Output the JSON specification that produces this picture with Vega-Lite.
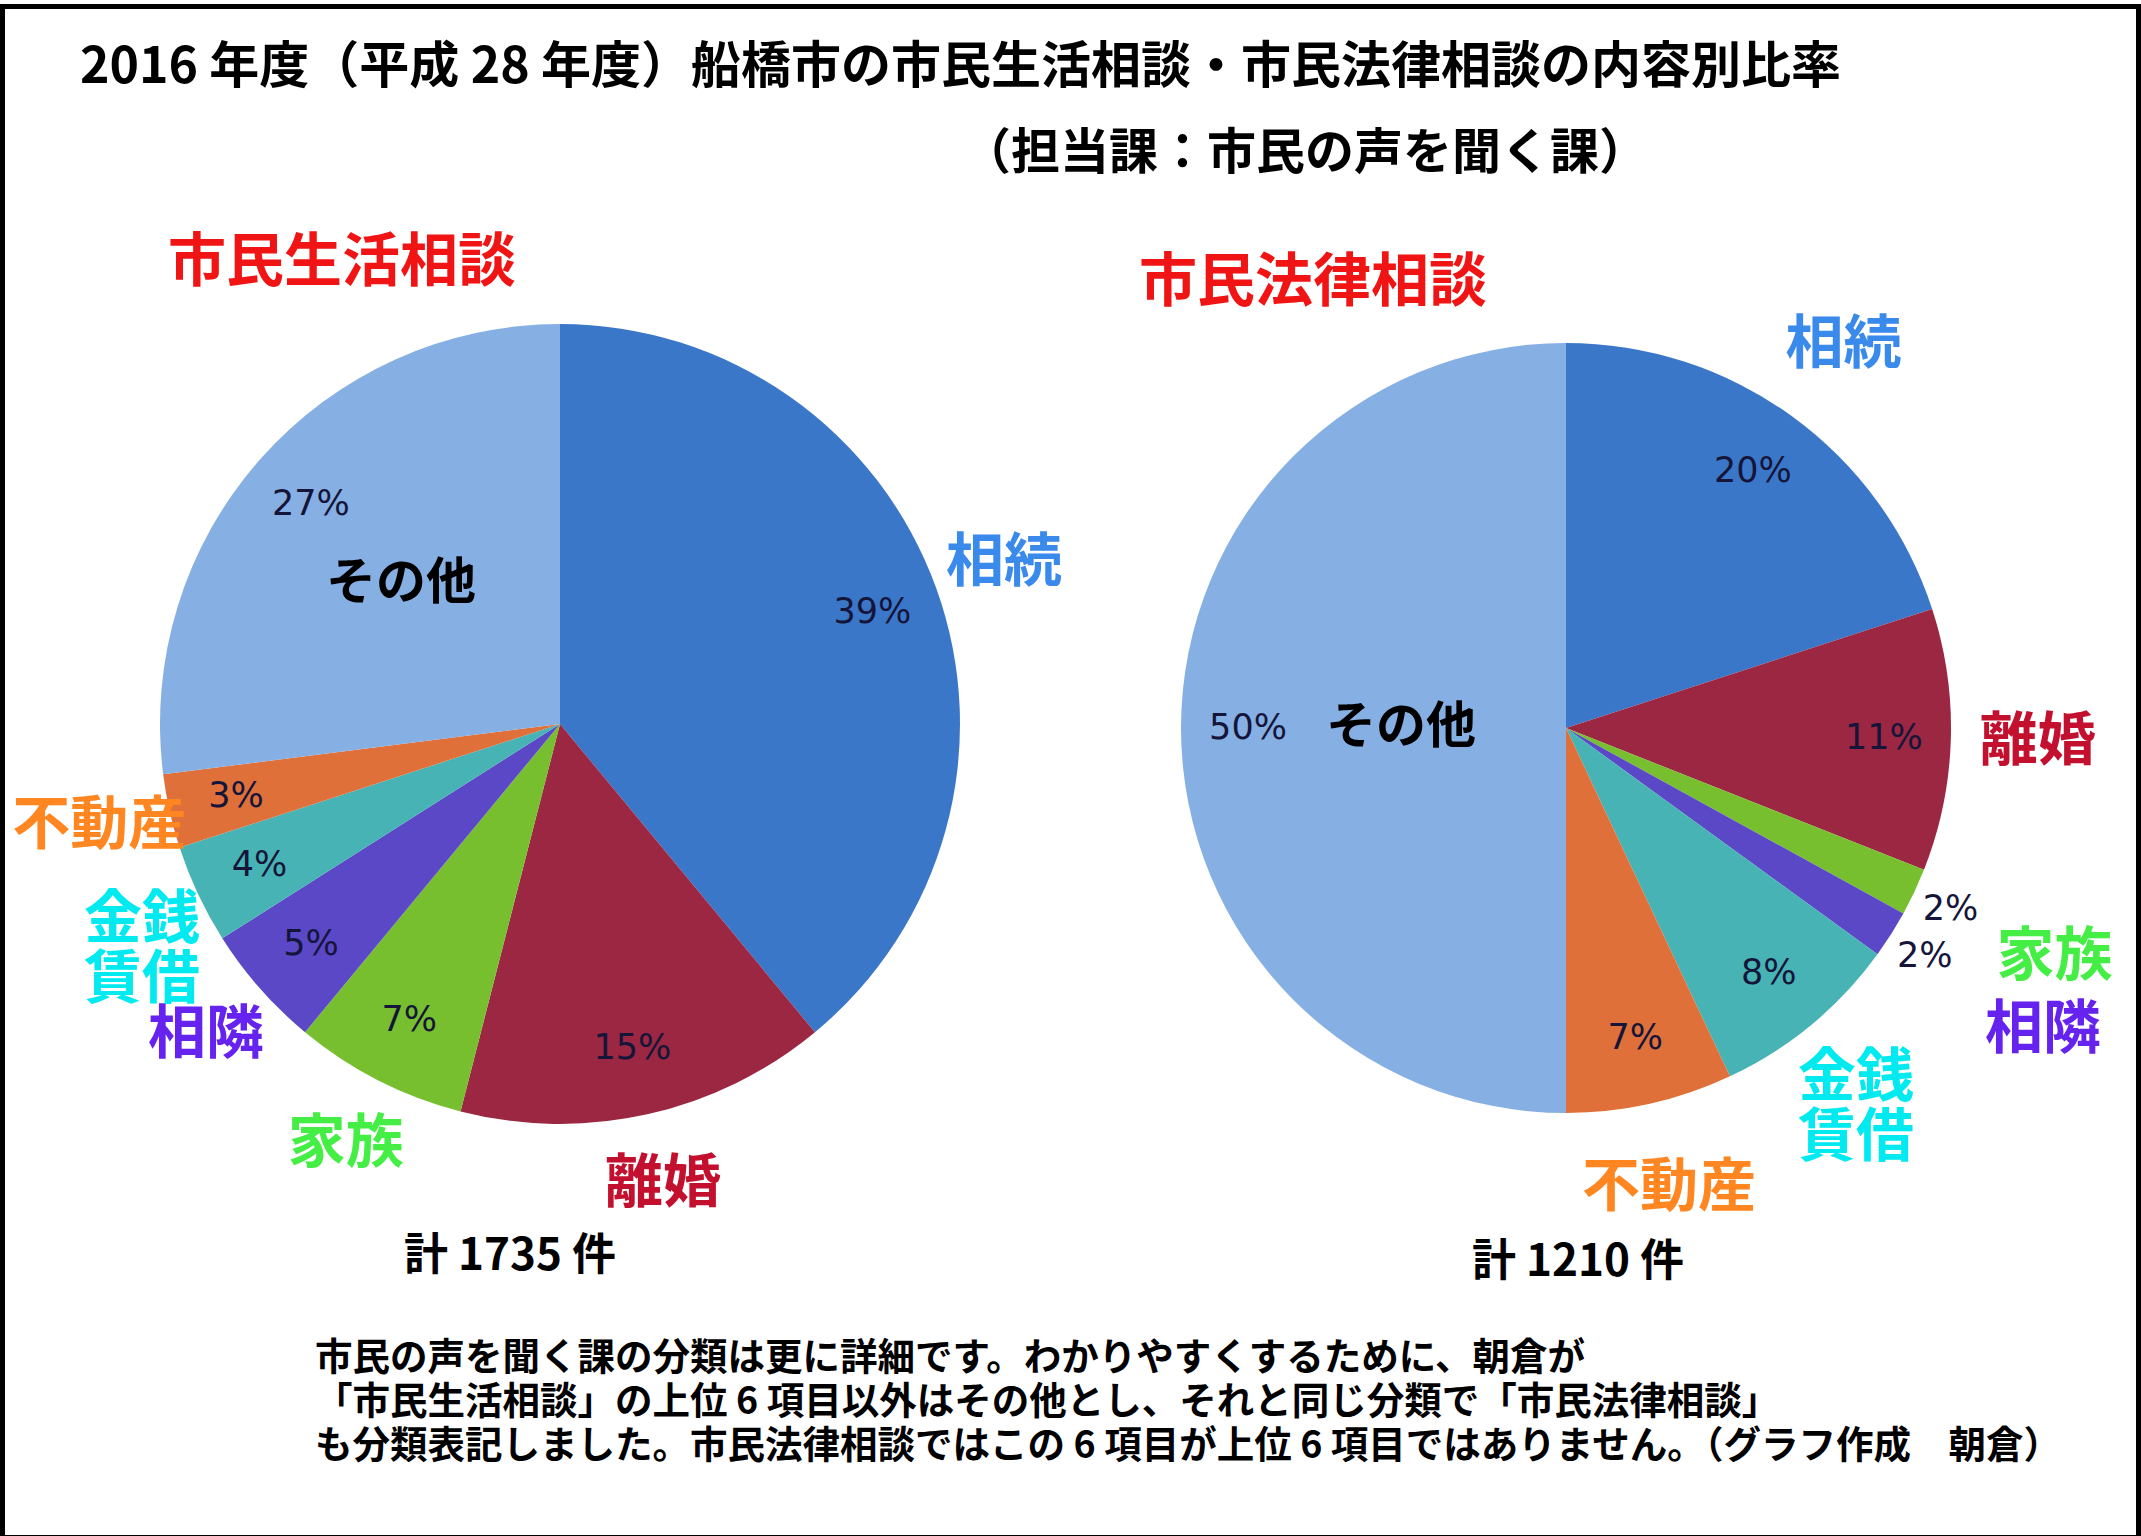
{
  "$schema": "https://vega.github.io/schema/vega-lite/v6.json",
  "background": "white",
  "padding": 0,
  "config": {"view": {"stroke": null}, "text": {"font": "Noto Sans CJK JP"}},
  "datasets": {
    "pies": [
      {"survey": "市民生活相談", "category": "相続", "label": "相続", "rank": 1, "share": 0.39},
      {"survey": "市民生活相談", "category": "離婚", "label": "離婚", "rank": 2, "share": 0.15},
      {"survey": "市民生活相談", "category": "家族", "label": "家族", "rank": 3, "share": 0.07},
      {"survey": "市民生活相談", "category": "相隣", "label": "相隣", "rank": 4, "share": 0.05},
      {"survey": "市民生活相談", "category": "金銭賃借", "label": "金銭\n賃借", "rank": 5, "share": 0.04},
      {"survey": "市民生活相談", "category": "不動産", "label": "不動産", "rank": 6, "share": 0.03},
      {"survey": "市民生活相談", "category": "その他", "label": "その他", "rank": 7, "share": 0.27},
      {"survey": "市民法律相談", "category": "相続", "label": "相続", "rank": 1, "share": 0.20},
      {"survey": "市民法律相談", "category": "離婚", "label": "離婚", "rank": 2, "share": 0.11},
      {"survey": "市民法律相談", "category": "家族", "label": "家族", "rank": 3, "share": 0.02},
      {"survey": "市民法律相談", "category": "相隣", "label": "相隣", "rank": 4, "share": 0.02},
      {"survey": "市民法律相談", "category": "金銭賃借", "label": "金銭\n賃借", "rank": 5, "share": 0.08},
      {"survey": "市民法律相談", "category": "不動産", "label": "不動産", "rank": 6, "share": 0.07},
      {"survey": "市民法律相談", "category": "その他", "label": "その他", "rank": 7, "share": 0.50}
    ],
    "blank": [{"t": " "}]
  },
  "bounds": "flush",
  "align": "each",
  "spacing": 0,
  "columns": 4,
  "concat": [
    {"width": 5, "height": 5, "view": {"fill": "black"}, "data": {"name": "blank"}, "mark": {"type": "text"}, "encoding": {"text": {"field": "t", "type": "nominal"}}},
    {"width": 1110, "height": 5, "view": {"fill": "black"}, "data": {"name": "blank"}, "mark": {"type": "text"}, "encoding": {"text": {"field": "t", "type": "nominal"}}},
    {"width": 1021, "height": 5, "view": {"fill": "black"}, "data": {"name": "blank"}, "mark": {"type": "text"}, "encoding": {"text": {"field": "t", "type": "nominal"}}},
    {"width": 5, "height": 5, "view": {"fill": "black"}, "data": {"name": "blank"}, "mark": {"type": "text"}, "encoding": {"text": {"field": "t", "type": "nominal"}}},

    {"width": 5, "height": 118, "view": {"fill": "black"}, "data": {"name": "blank"}, "mark": {"type": "text"}, "encoding": {"text": {"field": "t", "type": "nominal"}}},
    {
      "width": 150,
      "height": 118,
      "data": {"values": [{"t": "2016 年度（平成 28 年度）船橋市の市民生活相談・市民法律相談の内容別比率"}]},
      "mark": {"type": "text", "align": "left", "baseline": "middle", "fontSize": 50, "fontWeight": "bold", "color": "black"},
      "encoding": {"text": {"field": "t", "type": "nominal"}}
    },
    {"width": 1, "height": 1, "data": {"name": "blank"}, "mark": {"type": "text"}, "encoding": {"text": {"field": "t", "type": "nominal"}}},
    {"width": 5, "height": 118, "view": {"fill": "black"}, "data": {"name": "blank"}, "mark": {"type": "text"}, "encoding": {"text": {"field": "t", "type": "nominal"}}},

    {"width": 5, "height": 54, "view": {"fill": "black"}, "data": {"name": "blank"}, "mark": {"type": "text"}, "encoding": {"text": {"field": "t", "type": "nominal"}}},
    {"width": 1, "height": 1, "data": {"name": "blank"}, "mark": {"type": "text"}, "encoding": {"text": {"field": "t", "type": "nominal"}}},
    {
      "width": 380,
      "height": 54,
      "data": {"values": [{"t": "（担当課：市民の声を聞く課）"}]},
      "mark": {"type": "text", "align": "center", "baseline": "middle", "fontSize": 49, "fontWeight": "bold", "color": "black"},
      "encoding": {"text": {"field": "t", "type": "nominal"}}
    },
    {"width": 5, "height": 54, "view": {"fill": "black"}, "data": {"name": "blank"}, "mark": {"type": "text"}, "encoding": {"text": {"field": "t", "type": "nominal"}}},

    {"width": 5, "height": 206, "view": {"fill": "black"}, "data": {"name": "blank"}, "mark": {"type": "text"}, "encoding": {"text": {"field": "t", "type": "nominal"}}},
    {
      "width": 674,
      "height": 166,
      "data": {"values": [{"t": "市民生活相談"}]},
      "mark": {"type": "text", "align": "center", "baseline": "middle", "fontSize": 58, "fontWeight": "bold", "color": "#f01414"},
      "encoding": {"text": {"field": "t", "type": "nominal"}}
    },
    {
      "width": 396,
      "height": 206,
      "data": {"values": [{"t": "市民法律相談"}]},
      "mark": {"type": "text", "align": "center", "baseline": "middle", "fontSize": 58, "fontWeight": "bold", "color": "#f01414"},
      "encoding": {"text": {"field": "t", "type": "nominal"}}
    },
    {"width": 5, "height": 206, "view": {"fill": "black"}, "data": {"name": "blank"}, "mark": {"type": "text"}, "encoding": {"text": {"field": "t", "type": "nominal"}}},

    {"width": 5, "height": 845, "view": {"fill": "black"}, "data": {"name": "blank"}, "mark": {"type": "text"}, "encoding": {"text": {"field": "t", "type": "nominal"}}},
    {
      "width": 1110,
      "height": 674,
      "data": {"name": "pies"},
      "transform": [{"filter": "datum.survey === '市民生活相談'"}],
      "encoding": {
        "theta": {"field": "share", "type": "quantitative", "stack": true},
        "order": {"field": "rank", "type": "quantitative"}
      },
      "layer": [
        {
          "mark": {"type": "arc", "outerRadius": 400},
          "encoding": {
            "color": {
              "field": "category", "type": "nominal", "legend": null,
              "scale": {
                "domain": ["相続", "離婚", "家族", "相隣", "金銭賃借", "不動産", "その他"],
                "range": ["#3b77c8", "#9b2742", "#77bf2f", "#5a48c7", "#48b3b4", "#e0703a", "#86afe3"]
              }
            }
          }
        },
        {
          "mark": {"type": "text", "radius": {"expr": "datum.share < 0.03 ? 425 : 332"}, "font": "DejaVu Sans", "fontSize": 35, "color": "#15153a"},
          "encoding": {"text": {"field": "share", "type": "quantitative", "format": ".0%"}}
        },
        {
          "mark": {
            "type": "text", "fontWeight": "bold", "lineBreak": "\n", "lineHeight": 60,
            "radius": {"expr": "datum.category === 'その他' ? 212 : datum.category === '金銭賃借' ? 462 : 472"},
            "fontSize": {"expr": "datum.category === 'その他' ? 50 : 58"}
          },
          "encoding": {
            "text": {"field": "label", "type": "nominal"},
            "color": {
              "field": "category", "type": "nominal", "legend": null,
              "scale": {
                "domain": ["相続", "離婚", "家族", "相隣", "金銭賃借", "不動産", "その他"],
                "range": ["#3a8aeb", "#c2102e", "#44ee44", "#6622ee", "#00eaf0", "#ff8620", "#000000"]
              }
            }
          }
        }
      ],
      "resolve": {"scale": {"color": "independent"}}
    },
    {
      "width": 902,
      "height": 682,
      "data": {"name": "pies"},
      "transform": [{"filter": "datum.survey === '市民法律相談'"}],
      "encoding": {
        "theta": {"field": "share", "type": "quantitative", "stack": true},
        "order": {"field": "rank", "type": "quantitative"}
      },
      "layer": [
        {
          "mark": {"type": "arc", "outerRadius": 385},
          "encoding": {
            "color": {
              "field": "category", "type": "nominal", "legend": null,
              "scale": {
                "domain": ["相続", "離婚", "家族", "相隣", "金銭賃借", "不動産", "その他"],
                "range": ["#3b77c8", "#9b2742", "#77bf2f", "#5a48c7", "#48b3b4", "#e0703a", "#86afe3"]
              }
            }
          }
        },
        {
          "mark": {"type": "text", "radius": {"expr": "datum.share < 0.03 ? 425 : 318"}, "font": "DejaVu Sans", "fontSize": 35, "color": "#15153a"},
          "encoding": {"text": {"field": "share", "type": "quantitative", "format": ".0%"}}
        },
        {
          "mark": {
            "type": "text", "fontWeight": "bold", "lineBreak": "\n", "lineHeight": 60,
            "radius": {"expr": "datum.category === 'その他' ? 165 : datum.category === '相隣' ? 565 : datum.share < 0.03 ? 540 : datum.category === '金銭賃借' ? 455 : 472"},
            "fontSize": {"expr": "datum.category === 'その他' ? 50 : 58"}
          },
          "encoding": {
            "text": {"field": "label", "type": "nominal"},
            "color": {
              "field": "category", "type": "nominal", "legend": null,
              "scale": {
                "domain": ["相続", "離婚", "家族", "相隣", "金銭賃借", "不動産", "その他"],
                "range": ["#3a8aeb", "#c2102e", "#44ee44", "#6622ee", "#00eaf0", "#ff8620", "#000000"]
              }
            }
          }
        }
      ],
      "resolve": {"scale": {"color": "independent"}}
    },
    {"width": 5, "height": 845, "view": {"fill": "black"}, "data": {"name": "blank"}, "mark": {"type": "text"}, "encoding": {"text": {"field": "t", "type": "nominal"}}},

    {"width": 5, "height": 62, "view": {"fill": "black"}, "data": {"name": "blank"}, "mark": {"type": "text"}, "encoding": {"text": {"field": "t", "type": "nominal"}}},
    {
      "width": 1010,
      "height": 50,
      "data": {"values": [{"t": "計 1735 件"}]},
      "mark": {"type": "text", "align": "center", "baseline": "middle", "fontSize": 44, "fontWeight": "bold", "color": "black"},
      "encoding": {"text": {"field": "t", "type": "nominal"}}
    },
    {
      "width": 926,
      "height": 62,
      "data": {"values": [{"t": "計 1210 件"}]},
      "mark": {"type": "text", "align": "center", "baseline": "middle", "fontSize": 44, "fontWeight": "bold", "color": "black"},
      "encoding": {"text": {"field": "t", "type": "nominal"}}
    },
    {"width": 5, "height": 62, "view": {"fill": "black"}, "data": {"name": "blank"}, "mark": {"type": "text"}, "encoding": {"text": {"field": "t", "type": "nominal"}}},

    {"width": 5, "height": 241, "view": {"fill": "black"}, "data": {"name": "blank"}, "mark": {"type": "text"}, "encoding": {"text": {"field": "t", "type": "nominal"}}},
    {
      "width": 620,
      "height": 92,
      "data": {"values": [{"t": "市民の声を聞く課の分類は更に詳細です。わかりやすくするために、朝倉が\n「市民生活相談」の上位 6 項目以外はその他とし、それと同じ分類で「市民法律相談」\nも分類表記しました。市民法律相談ではこの 6 項目が上位 6 項目ではありません。（グラフ作成　朝倉）"}]},
      "mark": {"type": "text", "align": "left", "baseline": "top", "fontSize": 37.5, "fontWeight": "bold", "color": "black", "lineBreak": "\n", "lineHeight": 44},
      "encoding": {"text": {"field": "t", "type": "nominal"}}
    },
    {"width": 1, "height": 1, "data": {"name": "blank"}, "mark": {"type": "text"}, "encoding": {"text": {"field": "t", "type": "nominal"}}},
    {"width": 5, "height": 241, "view": {"fill": "black"}, "data": {"name": "blank"}, "mark": {"type": "text"}, "encoding": {"text": {"field": "t", "type": "nominal"}}},

    {"width": 5, "height": 5, "view": {"fill": "black"}, "data": {"name": "blank"}, "mark": {"type": "text"}, "encoding": {"text": {"field": "t", "type": "nominal"}}},
    {"width": 1110, "height": 5, "view": {"fill": "black"}, "data": {"name": "blank"}, "mark": {"type": "text"}, "encoding": {"text": {"field": "t", "type": "nominal"}}},
    {"width": 1021, "height": 5, "view": {"fill": "black"}, "data": {"name": "blank"}, "mark": {"type": "text"}, "encoding": {"text": {"field": "t", "type": "nominal"}}},
    {"width": 5, "height": 5, "view": {"fill": "black"}, "data": {"name": "blank"}, "mark": {"type": "text"}, "encoding": {"text": {"field": "t", "type": "nominal"}}}
  ]
}
